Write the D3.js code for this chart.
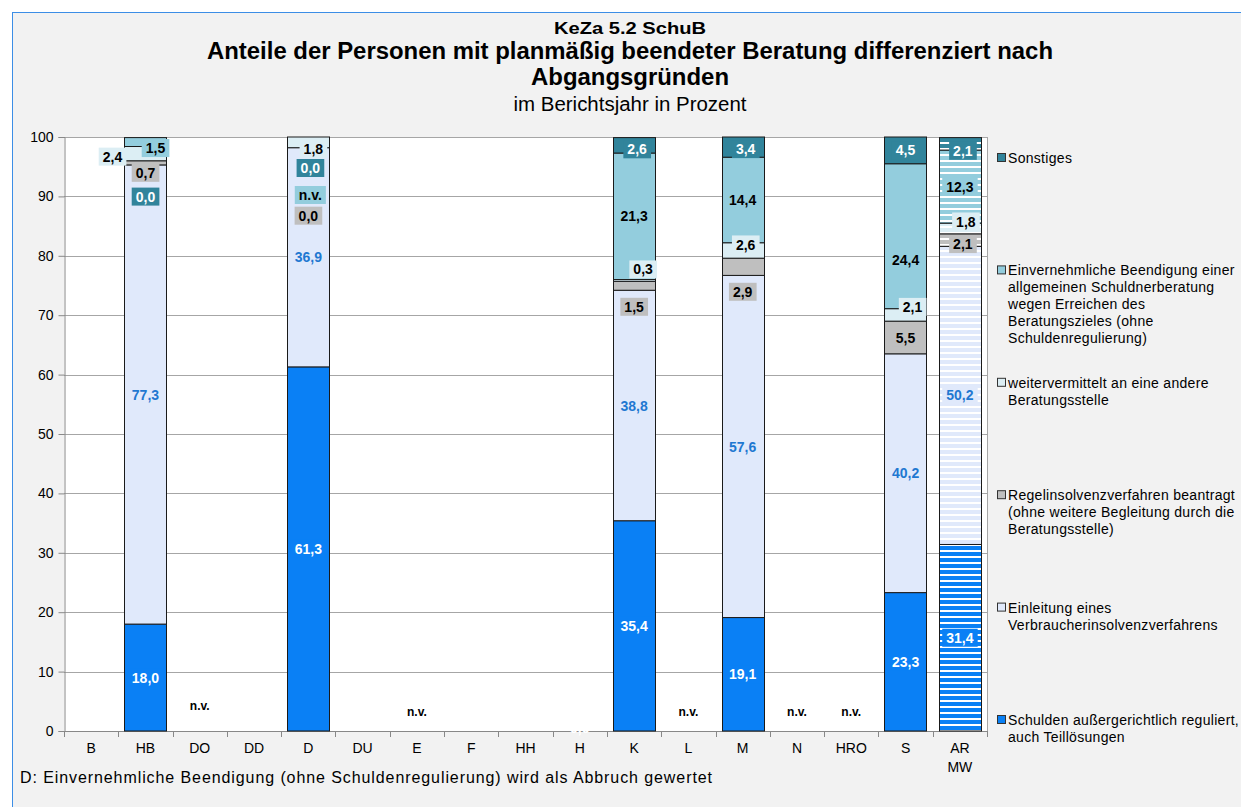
<!DOCTYPE html>
<html>
<head>
<meta charset="utf-8">
<script src="https://cdn.jsdelivr.net/npm/d3@7"></script>
<style>
  body { margin: 0; background: #fff; }
  svg { display: block; }
  text { font-family: "Liberation Sans", Arial, sans-serif; }
</style>
</head>
<body>
<div id="chart"></div>
<script>
// ---- data ----
const categories  = ["B","HB","DO","DD","D","DU","E","F","HH","H","K","L","M","N","HRO","S","AR MW"]
const schulden    = [null,18.0,null,null,61.3,null,null,null,null,0.0,35.4,null,19.1,null,null,23.3,31.4]
const verbraucher = [null,77.3,null,null,36.9,null,null,null,null,null,38.8,null,57.6,null,null,40.2,50.2]
const regel       = [null,0.7,null,null,0.0,null,null,null,null,null,1.5,null,2.9,null,null,5.5,2.1]
const weiter      = [null,2.4,null,null,1.8,null,null,null,null,null,0.3,null,2.6,null,null,2.1,1.8]
const einvern     = [null,1.5,null,null,"n.v.",null,null,null,null,null,21.3,null,14.4,null,null,24.4,12.3]
const sonstiges   = [null,0.0,null,null,0.0,null,null,null,null,null,2.6,null,3.4,null,null,4.5,2.1]
const nvCategories = ["DO","E","L","N","HRO"]
const meanCategory = "AR MW"
const yTicks = [0,10,20,30,40,50,60,70,80,90,100]

const seriesKeys = ["schulden","verbraucher","regel","weiter","einvern","sonstiges"]
const seriesValues = { schulden, verbraucher, regel, weiter, einvern, sonstiges }
const legendLines = {
  sonstiges:   ["Sonstiges"],
  einvern:     ["Einvernehmliche Beendigung einer","allgemeinen Schuldnerberatung","wegen Erreichen des","Beratungszieles (ohne","Schuldenregulierung)"],
  weiter:      ["weitervermittelt an eine andere","Beratungsstelle"],
  regel:       ["Regelinsolvenzverfahren beantragt","(ohne weitere Begleitung durch die","Beratungsstelle)"],
  verbraucher: ["Einleitung eines","Verbraucherinsolvenzverfahrens"],
  schulden:    ["Schulden außergerichtlich reguliert,","auch Teillösungen"]
}

// ---- styles ----
const FILL  = { schulden:"#0a80f5", verbraucher:"#e0e9fb", regel:"#bfbfbf", weiter:"#dceef4", einvern:"#93cddd", sonstiges:"#31849b" }
const LABEL = { schulden:"#ffffff", verbraucher:"#1f78d1", regel:"#000", weiter:"#000", einvern:"#000", sonstiges:"#ffffff" }

// hand-placed label offsets (pixels), like the moved labels in the original
const labelNudge = {
  "HB|sonstiges":[0,59], "HB|einvern":[10,6], "HB|weiter":[-33,3], "HB|regel":[0,10],
  "D|weiter":[5,7], "D|sonstiges":[2,31], "D|einvern":[2,58], "D|regel":[0,68],
  "K|sonstiges":[3,4], "K|weiter":[9,-11], "K|regel":[0,21],
  "M|sonstiges":[3,2], "M|weiter":[3,-6], "M|regel":[0,25],
  "S|einvern":[0,24], "S|weiter":[7,-8],
  "AR MW|sonstiges":[3,7], "AR MW|weiter":[6,-7], "AR MW|regel":[3,4],
  "H|schulden":[0,-3], "DO|nv":[0,-6]
}

const W = 1241, H = 807
const PLOT = { LEFT: 64, RIGHT: 987, TOP: 137, BOTTOM: 731 }

const svg = d3.select("#chart").append("svg")
  .attr("width", W).attr("height", H)

const defs = svg.append("defs")
seriesKeys.forEach(k => {
  const p = defs.append("pattern")
    .attr("id", "stripe-" + k)
    .attr("patternUnits", "userSpaceOnUse")
    .attr("width", 8).attr("height", 6)
  p.append("rect").attr("width", 8).attr("height", 6).attr("fill", "#fff")
  p.append("rect").attr("width", 8).attr("height", 4).attr("fill", FILL[k])
})

// outer frame
svg.append("rect")
  .attr("x", 12.5).attr("y", 12.5)
  .attr("width", W).attr("height", H)
  .attr("fill", "#f2f2f2")
  .attr("stroke", "#3c8ee6").attr("stroke-width", 1)

// titles
const cx = 630
const titles = [
  { t: "KeZa 5.2 SchuB", y: 34, size: 17, w: "bold", len: 152 },
  { t: "Anteile der Personen mit planmäßig beendeter Beratung differenziert nach", y: 59, size: 23, w: "bold", len: 846 },
  { t: "Abgangsgründen", y: 85, size: 24, w: "bold", len: 198 },
  { t: "im Berichtsjahr in Prozent", y: 111, size: 20, w: "normal", len: 233 }
]
titles.forEach(d => {
  svg.append("text")
    .attr("x", cx).attr("y", d.y)
    .attr("text-anchor", "middle")
    .attr("font-size", d.size).attr("font-weight", d.w)
    .attr("textLength", d.len).attr("lengthAdjust", "spacingAndGlyphs")
    .text(d.t)
})

// scales
const x = d3.scaleBand()
  .domain(categories)
  .range([PLOT.LEFT, PLOT.RIGHT])
  .paddingInner(0.22).paddingOuter(0.11)
const y = d3.scaleLinear().domain([0, 100]).range([PLOT.BOTTOM, PLOT.TOP])
const step = x.step()

// plot area
svg.append("rect")
  .attr("x", PLOT.LEFT).attr("y", PLOT.TOP)
  .attr("width", PLOT.RIGHT - PLOT.LEFT).attr("height", PLOT.BOTTOM - PLOT.TOP)
  .attr("fill", "#fff")

svg.append("g").selectAll("line")
  .data(yTicks.filter(d => d > 0))
  .join("line")
    .attr("x1", PLOT.LEFT).attr("x2", PLOT.RIGHT)
    .attr("y1", d => Math.round(y(d)) + 0.5).attr("y2", d => Math.round(y(d)) + 0.5)
    .attr("stroke", "#a6a6a6")

svg.append("line")
  .attr("x1", PLOT.RIGHT + 0.5).attr("x2", PLOT.RIGHT + 0.5)
  .attr("y1", PLOT.TOP).attr("y2", PLOT.BOTTOM)
  .attr("stroke", "#a6a6a6")

// axes
const yAxis = svg.append("g")
  .attr("transform", `translate(${PLOT.LEFT + 0.5},0)`)
  .call(d3.axisLeft(y).tickValues(yTicks).tickSize(6).tickPadding(5).tickFormat(d3.format("d")))
yAxis.select(".domain").attr("stroke", "#888")
yAxis.selectAll(".tick line").attr("stroke", "#888")
yAxis.selectAll(".tick text").attr("font-size", 14).attr("fill", "#000")
  .attr("font-family", '"Liberation Sans", Arial, sans-serif')

const xBase = svg.append("g")
xBase.append("line")
  .attr("x1", PLOT.LEFT).attr("x2", PLOT.RIGHT)
  .attr("y1", PLOT.BOTTOM + 0.5).attr("y2", PLOT.BOTTOM + 0.5)
  .attr("stroke", "#888")
xBase.selectAll(".xt")
  .data(d3.range(categories.length + 1))
  .join("line")
    .attr("class", "xt")
    .attr("x1", i => Math.round(PLOT.LEFT + i * step) + 0.5)
    .attr("x2", i => Math.round(PLOT.LEFT + i * step) + 0.5)
    .attr("y1", PLOT.BOTTOM).attr("y2", PLOT.BOTTOM + 6)
    .attr("stroke", "#888")
xBase.selectAll(".xl")
  .data(categories)
  .join("text")
    .attr("class", "xl")
    .attr("x", d => x(d) + x.bandwidth() / 2)
    .attr("y", PLOT.BOTTOM + 22)
    .attr("text-anchor", "middle")
    .attr("font-size", 14)
    .selectAll("tspan")
    .data(d => d.split(" "))
    .join("tspan")
      .attr("x", function() { return this.parentNode.getAttribute("x") })
      .attr("dy", (d, i) => i === 0 ? 0 : 19)
      .text(d => d)

// stacked segments
const segments = []
categories.forEach((c, i) => {
  let base = 0
  seriesKeys.forEach(k => {
    const v = seriesValues[k][i]
    if (v === null) return
    const num = typeof v === "number" ? v : 0
    segments.push({ cat: c, key: k, value: v, y0: base, y1: base + num })
    base += num
  })
})

const bars = svg.append("g")
bars.selectAll("rect")
  .data(segments.filter(d => d.y1 > d.y0))
  .join("rect")
    .attr("x", d => Math.round(x(d.cat)) + 0.5)
    .attr("y", d => y(d.y1))
    .attr("width", Math.round(x.bandwidth()))
    .attr("height", d => y(d.y0) - y(d.y1))
    .attr("fill", d => d.cat === meanCategory ? `url(#stripe-${d.key})` : FILL[d.key])
    .attr("stroke", "#1a1a1a").attr("stroke-width", 1)

// data labels
const fmt = v => typeof v === "number" ? d3.format(".1f")(v).replace(".", ",") : v
const labels = svg.append("g")
segments.forEach(d => {
  const nudge = labelNudge[d.cat + "|" + d.key] || [0, 0]
  const lx = x(d.cat) + x.bandwidth() / 2 + nudge[0]
  const ly = y((d.y0 + d.y1) / 2) + nudge[1]
  const g = labels.append("g").attr("transform", `translate(${lx},${ly})`)
  const txt = g.append("text")
    .attr("text-anchor", "middle").attr("dy", "0.36em")
    .attr("font-size", 14).attr("font-weight", "bold")
    .attr("fill", LABEL[d.key])
    .text(fmt(d.value))
  if (d.cat === "H") return
  const bb = txt.node().getBBox()
  g.insert("rect", "text")
    .attr("x", bb.x - 4).attr("y", -9)
    .attr("width", bb.width + 8).attr("height", 18)
    .attr("fill", FILL[d.key])
})

// n.v. for whole categories
labels.selectAll(".nv")
  .data(nvCategories)
  .join("text")
    .attr("class", "nv")
    .attr("x", d => x(d) + x.bandwidth() / 2 + (labelNudge[d + "|nv"] || [0, 0])[0])
    .attr("y", d => PLOT.BOTTOM - 15 + (labelNudge[d + "|nv"] || [0, 0])[1])
    .attr("text-anchor", "middle")
    .attr("font-size", 12).attr("font-weight", "bold")
    .text("n.v.")

// legend
const legend = svg.append("g")
const legendOrder = ["sonstiges","einvern","weiter","regel","verbraucher","schulden"]
const legendY = d3.scalePoint().domain(legendOrder).range([158, 720])
legendOrder.forEach(k => {
  const ly = legendY(k)
  legend.append("rect")
    .attr("x", 997.5).attr("y", ly - 4.5)
    .attr("width", 8).attr("height", 8)
    .attr("fill", FILL[k]).attr("stroke", "#333")
  legend.append("text")
    .attr("x", 1008).attr("y", ly)
    .attr("font-size", 14).attr("letter-spacing", 0.3)
    .selectAll("tspan")
    .data(legendLines[k])
    .join("tspan")
      .attr("x", 1008)
      .attr("dy", (d, i) => i === 0 ? "0.36em" : 17)
      .text(d => d)
})

// footnote
svg.append("text")
  .attr("x", 20).attr("y", 783)
  .attr("font-size", 16)
  .attr("textLength", 692).attr("lengthAdjust", "spacing")
  .text("D: Einvernehmliche Beendigung (ohne Schuldenregulierung) wird als Abbruch gewertet")
</script>
</body>
</html>
